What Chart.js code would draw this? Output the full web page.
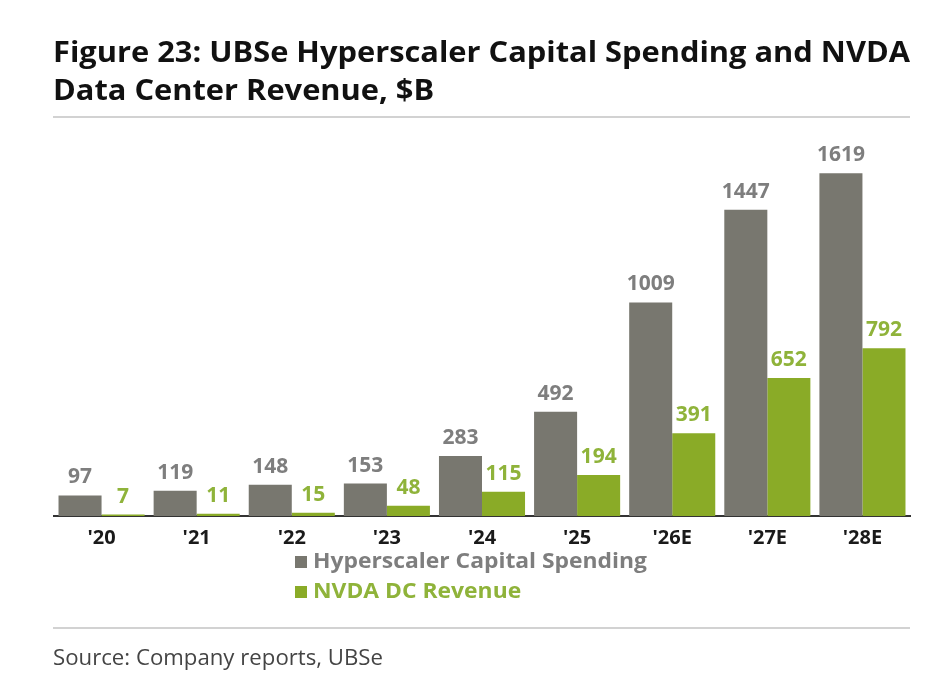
<!DOCTYPE html>
<html>
<head>
<meta charset="utf-8">
<script src="https://cdn.jsdelivr.net/npm/chart.js@4.4.1/dist/chart.umd.min.js"></script>
<style>
  html, body { margin: 0; padding: 0; background: #fff; }
  #wrap { width: 933px; height: 681px; position: relative; }
</style>
</head>
<body>
<div id="wrap"><canvas id="mycanvas"></canvas></div>
<script>
var years = ["'20", "'21", "'22", "'23", "'24", "'25", "'26E", "'27E", "'28E"];
var capex = [97, 119, 148, 153, 283, 492, 1009, 1447, 1619];
var nvdaDc = [7, 11, 15, 48, 115, 194, 391, 652, 792];
var seriesNames = ["Hyperscaler Capital Spending", "NVDA DC Revenue"];
var titleLines = ["Figure 23: UBSe Hyperscaler Capital Spending and NVDA", "Data Center Revenue, $B"];
var sourceText = "Source: Company reports, UBSe";

var GRAY = "#78776f";
var GREEN = "#8aab27";
var GRAY_TXT = "#7e7e7e";
var GREEN_TXT = "#8fb33a";

// draw text squeezed/stretched horizontally by sx
function drawScaled(ctx, text, x, y, sx) {
	ctx.save();
	ctx.translate(x, y);
	ctx.scale(sx, 1);
	ctx.fillText(text, 0, 0);
	ctx.restore();
}

var valueLabels = {
	id: 'valueLabels',
	afterDatasetsDraw: function(chart) {
		var ctx = chart.ctx;
		ctx.save();
		ctx.font = "bold 21px 'Open Sans'";
		ctx.textAlign = 'center';
		ctx.textBaseline = 'alphabetic';
		chart.data.datasets.forEach(function(ds, i) {
			var meta = chart.getDatasetMeta(i);
			ctx.fillStyle = i === 0 ? GRAY_TXT : GREEN_TXT;
			meta.data.forEach(function(bar, j) {
				ctx.fillText(String(ds.data[j]), bar.x, bar.y - 12);
			});
		});
		ctx.restore();
	}
};

var frame = {
	id: 'frame',
	afterDraw: function(chart) {
		var ctx = chart.ctx;
		ctx.save();
		// title
		ctx.fillStyle = "#111";
		ctx.textAlign = 'left';
		ctx.textBaseline = 'alphabetic';
		ctx.font = "bold 28px 'Open Sans'";
		var sx = 857 / ctx.measureText(titleLines[0]).width;
		drawScaled(ctx, titleLines[0], 53, 62, sx);
		drawScaled(ctx, titleLines[1], 53, 100, sx);
		// rules
		ctx.strokeStyle = "#d2d2d2";
		ctx.lineWidth = 2;
		ctx.beginPath();
		ctx.moveTo(53, 117); ctx.lineTo(910, 117);
		ctx.moveTo(53, 628); ctx.lineTo(910, 628);
		ctx.stroke();
		// source
		ctx.fillStyle = "#444";
		ctx.font = "22px 'Open Sans'";
		var sx2 = 330 / ctx.measureText(sourceText).width;
		drawScaled(ctx, sourceText, 53, 665, sx2);
		// legend
		ctx.font = "bold 22px 'Open Sans'";
		var sx3 = 334 / ctx.measureText(chart.data.datasets[0].label).width;
		ctx.textBaseline = 'middle';
		chart.data.datasets.forEach(function(ds, i) {
			var cy = 562 + i * 30;
			ctx.fillStyle = ds.backgroundColor;
			ctx.fillRect(295, cy - 6, 12, 12);
			ctx.fillStyle = i === 0 ? GRAY_TXT : GREEN_TXT;
			drawScaled(ctx, ds.label, 313, cy, sx3);
		});
		ctx.restore();
	}
};

var ctx = document.getElementById("mycanvas");
var chart = new Chart(ctx, {
	type: 'bar',
	data: {
		labels: years,
		datasets: [
			{ label: seriesNames[0], data: capex, backgroundColor: GRAY, categoryPercentage: 0.905, barPercentage: 1 },
			{ label: seriesNames[1], data: nvdaDc, backgroundColor: GREEN, categoryPercentage: 0.905, barPercentage: 1 }
		]
	},
	options: {
		responsive: true,
		maintainAspectRatio: false,
		animation: false,
		layout: { padding: { top: 135, left: 54, right: 23, bottom: 0 } },
		plugins: {
			legend: { display: false },
			tooltip: { enabled: false }
		},
		scales: {
			x: {
				grid: { display: false },
				border: { display: true, color: "#333", width: 2 },
				ticks: { font: { family: 'Open Sans', weight: 'bold', size: 20 }, color: "#1a1a1a", padding: 2 },
				afterFit: function(s) { s.height = 165; }
			},
			y: { display: false, min: 0, max: 1800 }
		}
	},
	plugins: [valueLabels, frame]
});
</script>
</body>
</html>
